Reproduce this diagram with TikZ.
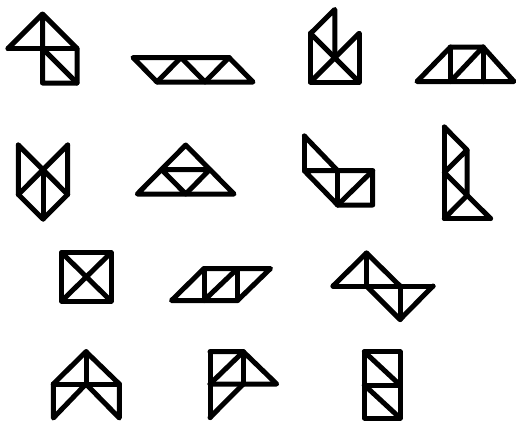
\documentclass[tikz,border=0pt]{standalone}
\begin{document}
\begin{tikzpicture}[x=1pt,y=-1pt,
  tan/.style={line width=5pt,line join=round,line cap=round,draw=black}]
\useasboundingbox (0,0) rectangle (516,421);
% shape 1
\draw[tan] (8,48.5) -- (42.5,14) -- (77,48.5) -- (77,83) -- (42.5,83) -- (42.5,14);
\draw[tan] (8,48.5) -- (77,48.5);
\draw[tan] (42.5,48.5) -- (77,83);
% shape 2
\draw[tan] (133,57.5) -- (229,57.5) -- (253,82) -- (157,82) -- cycle;
\draw[tan] (157,82) -- (181,57.5) -- (205,82) -- (229,57.5);
% shape 3
\draw[tan] (310.5,33.5) -- (310.5,82) -- (359,82) -- (359,33.5);
\draw[tan] (310.5,33.5) -- (359,82);
\draw[tan] (359,33.5) -- (310.5,82);
\draw[tan] (310.5,33.5) -- (334.75,9.5) -- (334.75,57.75);
% shape 4
\draw[tan] (417,81.5) -- (450.5,47) -- (483,47) -- (514,81.5) -- cycle;
\draw[tan] (450.5,47) -- (450.5,81.5);
\draw[tan] (483,47) -- (483,81.5);
\draw[tan] (450.5,81.5) -- (483,47);
% shape 5
\draw[tan] (18.3,145) -- (18.3,194.5) -- (43,219) -- (67.7,194.5) -- (67.7,145);
\draw[tan] (18.3,145) -- (67.7,194.5);
\draw[tan] (67.7,145) -- (18.3,194.5);
\draw[tan] (43,169.7) -- (43,219);
% shape 6
\draw[tan] (137.3,194) -- (185.7,145) -- (234,194) -- cycle;
\draw[tan] (161.5,169.5) -- (209.8,169.5) -- (185.7,194) -- cycle;
% shape 7
\draw[tan] (304.3,136) -- (304.3,170.7);
\draw[tan] (304.3,136) -- (337.7,170.7);
\draw[tan] (304.3,170.7) -- (372.7,170.7) -- (372.7,205) -- (337.7,205) -- cycle;
\draw[tan] (337.7,170.7) -- (337.7,205);
\draw[tan] (337.7,205) -- (372.7,170.7);
% shape 8
\draw[tan] (444.3,127) -- (444.3,218.5) -- (490.5,218.5);
\draw[tan] (444.3,127) -- (467,150) -- (444.3,172.5) -- (490.5,218.5);
\draw[tan] (467,150) -- (467,195.5) -- (444.3,218.5);
% shape 9
\draw[tan] (61.7,252.7) rectangle (111,301);
\draw[tan] (61.7,252.7) -- (111,301);
\draw[tan] (111,252.7) -- (61.7,301);
% shape 10
\draw[tan] (171.5,300.5) -- (204,268.5) -- (270.5,268.5) -- (237.5,300.5) -- cycle;
\draw[tan] (204,268.5) -- (204,300.5);
\draw[tan] (237.5,268.5) -- (237.5,300.5);
\draw[tan] (204,300.5) -- (237.5,268.5);
% shape 11
\draw[tan] (333,286) -- (366.5,253) -- (400,286);
\draw[tan] (366.5,253) -- (366.5,286);
\draw[tan] (333,286) -- (433,286);
\draw[tan] (366.5,286) -- (400,319.5) -- (433,286);
\draw[tan] (400,286) -- (400,319.5);
% shape 12
\draw[tan] (53.3,384) -- (86,351.7) -- (119.3,384);
\draw[tan] (86,351.7) -- (86,384);
\draw[tan] (53.3,384) -- (119.3,384);
\draw[tan] (53.3,384) -- (53.3,418) -- (86,384) -- (119.3,418) -- (119.3,384);
% shape 13
\draw[tan] (210,351.7) -- (243.3,351.7) -- (276.7,384) -- (210,384);
\draw[tan] (210,351.7) -- (210,417.5);
\draw[tan] (210,384) -- (243.3,351.7);
\draw[tan] (243.3,351.7) -- (243.3,384);
\draw[tan] (243.3,384) -- (210,417.5);
% shape 14
\draw[tan] (364.3,351.7) rectangle (400,418);
\draw[tan] (364.3,385) -- (400,385);
\draw[tan] (364.3,351.7) -- (400,385);
\draw[tan] (364.3,385) -- (400,418);
\end{tikzpicture}
\end{document}
